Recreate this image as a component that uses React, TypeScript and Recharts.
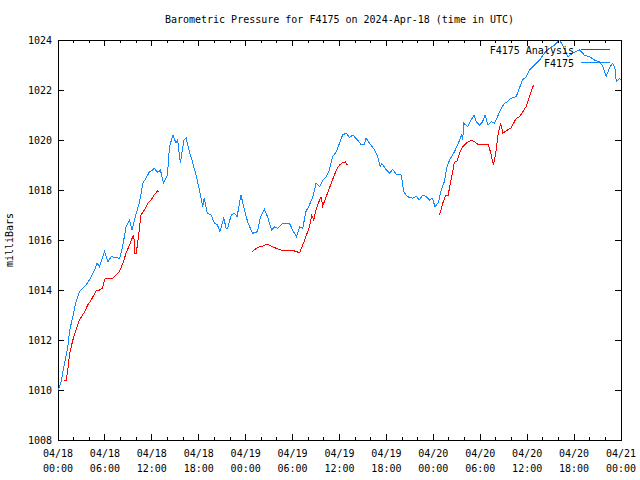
import React from "react";
import {
  LineChart,
  Line,
  XAxis,
  YAxis,
  ReferenceArea,
} from "recharts";

// hours since 04/18 00:00 UTC, observed station pressure (mb)
const obsHours = [
  0, 0.4, 0.85, 1.25, 1.5, 1.9, 2.3, 2.75, 3.6, 4.0, 4.7, 5.0, 5.3, 5.95, 6.4,
  6.8, 7.9, 8.3, 8.7, 9.15, 9.45, 9.8, 10.0, 10.4, 10.85, 11.3, 11.7, 12.1,
  12.3, 12.75, 13.1, 13.5, 14.0, 14.25, 14.7, 15.1, 15.3, 15.65, 16.1, 16.4,
  16.8, 17.25, 17.7, 18.1, 18.5, 18.7, 19.1, 19.6, 20.0, 20.4, 20.7, 21.2,
  21.5, 21.7, 22.15, 22.6, 22.9, 23.4, 23.6, 23.85, 24.3, 24.9, 25.5, 25.9,
  26.4, 26.8, 27.3, 27.7, 28.1, 28.75, 29.6, 30.0, 30.5, 30.9, 31.3, 31.7,
  32.15, 32.6, 33.0, 33.45, 33.9, 34.3, 34.7, 35.1, 35.6, 36.0, 36.4, 36.85,
  37.3, 37.7, 38.3, 38.7, 39.2, 39.4, 40.0, 40.5, 40.9, 41.2, 41.4, 42.0, 42.4,
  42.8, 43.25, 43.9, 44.2, 44.7, 45.4, 45.8, 46.2, 46.65, 47.1, 47.5, 47.9,
  48.2, 48.65, 49.0, 49.4, 49.8, 50.2, 50.7, 51.2, 51.6, 51.75, 51.9, 52.4,
  52.7, 53.2, 53.5, 53.9, 54.3, 54.6, 55.0, 55.4, 55.8, 56.2, 56.7, 57.1, 57.5,
  57.9, 58.6, 59.0, 59.4, 59.9, 60.3, 60.7, 61.15, 61.6, 62.2, 62.85, 63.5,
  64.1, 64.55, 65.2, 65.8, 66.7, 67.3, 68.0, 68.6, 69.25, 69.7, 70.1, 70.5,
  70.9, 71.2, 71.4, 71.8, 72.0,
];
const obsMb = [
  1009.97, 1010.33, 1011.1, 1011.73, 1012.4, 1012.93, 1013.53, 1013.93,
  1014.2, 1014.4, 1014.8, 1015.07, 1014.93, 1015.53, 1015.13, 1015.33,
  1015.27, 1015.8, 1016.53, 1016.8, 1016.4, 1016.8, 1017.07, 1017.47,
  1018.27, 1018.5, 1018.73, 1018.8, 1018.87, 1018.7, 1018.8, 1018.27, 1018.6,
  1019.73, 1020.2, 1019.87, 1020.0, 1019.07, 1020.0, 1020.07, 1019.53,
  1019.07, 1018.53, 1018.0, 1017.33, 1017.67, 1017.07, 1017.0, 1016.67,
  1016.6, 1016.33, 1016.87, 1016.47, 1016.47, 1017.0, 1017.07, 1016.93,
  1017.8, 1017.53, 1017.2, 1016.67, 1016.27, 1016.33, 1016.93, 1017.23,
  1016.93, 1016.4, 1016.53, 1016.47, 1016.67, 1016.67, 1016.4, 1016.13,
  1016.53, 1016.47, 1017.13, 1017.4, 1017.73, 1018.27, 1018.13, 1018.4,
  1018.53, 1018.8, 1019.33, 1019.53, 1019.87, 1020.2, 1020.27, 1020.1, 1020.2,
  1020.0, 1019.84, 1019.84, 1020.07, 1019.8, 1019.6, 1019.33, 1018.93,
  1019.07, 1018.8, 1018.67, 1018.83, 1018.64, 1018.6, 1017.93, 1017.73,
  1017.67, 1017.76, 1017.6, 1017.8, 1017.73, 1017.6, 1017.67, 1017.33, 1017.5,
  1018.0, 1018.33, 1019.0, 1019.27, 1019.53, 1019.87, 1020.2, 1020.0, 1020.67,
  1020.53, 1020.73, 1021.0, 1020.73, 1020.6, 1020.73, 1021.0, 1020.6, 1020.73,
  1020.67, 1020.93, 1021.27, 1021.47, 1021.53, 1021.67, 1021.73, 1022.07,
  1022.4, 1022.53, 1022.8, 1022.93, 1023.07, 1023.2, 1023.47, 1023.67,
  1023.8, 1024.0, 1023.8, 1023.33, 1023.47, 1023.6, 1023.4, 1023.33, 1023.2,
  1023.13, 1022.93, 1022.53, 1022.87, 1023.07, 1022.93, 1022.33, 1022.47,
  1022.4,
];

// analysis runs, null = gap between runs
const anaHours = [
  0.75, 1.05, 1.25, 1.5, 1.9, 2.3, 2.75, 3.4, 3.8, 4.25, 4.7, 4.9, 5.3, 5.7,
  5.95, 6.4, 7.0, 7.45, 7.85, 8.3, 8.7, 9.15, 9.55, 9.7, 9.8, 10.0, 10.3, 10.6,
  11.05, 11.5, 11.9, 12.3, 12.75, 12.9, 18, 24.8, 25.1, 25.55, 26.2, 26.75,
  27.25, 27.9, 28.5, 29.4, 30.25, 30.9, 31.3, 31.7, 32.15, 32.45, 32.7, 33.0,
  33.45, 33.65, 33.85, 34.3, 34.7, 35.1, 35.6, 36.0, 36.4, 36.75, 37.0, 42,
  48.8, 49.2, 49.6, 49.9, 50.3, 50.7, 51.05, 51.35, 51.75, 52.2, 52.8, 53.25,
  53.7, 54.3, 55.0, 55.3, 55.6, 55.7, 56.0, 56.3, 56.6, 56.9, 57.3, 57.95,
  58.6, 59.0, 59.45, 59.85, 60.3, 60.7, 60.9,
];
const anaMb = [
  1010.37, 1010.37, 1010.8, 1011.47, 1012.0, 1012.4, 1012.8, 1013.13, 1013.4,
  1013.6, 1013.87, 1014.0, 1014.0, 1014.07, 1014.43, 1014.47, 1014.47, 1014.6,
  1014.73, 1015.07, 1015.47, 1015.8, 1016.13, 1016.2, 1015.47, 1015.47,
  1016.13, 1017.0, 1017.2, 1017.47, 1017.6, 1017.8, 1017.97, 1017.93, null,
  1015.53, 1015.6, 1015.71, 1015.76, 1015.83, 1015.76, 1015.67, 1015.6,
  1015.57, 1015.56, 1015.49, 1015.8, 1016.13, 1016.53, 1017.0, 1016.8, 1017.2,
  1017.6, 1017.71, 1017.36, 1017.73, 1018.07, 1018.4, 1018.8, 1019.0, 1019.09,
  1019.13, 1019.0, null, 1017.0, 1017.47, 1017.8, 1017.8, 1018.47, 1019.11,
  1019.16, 1019.47, 1019.73, 1019.87, 1019.99, 1019.93, 1019.83, 1019.83,
  1019.84, 1019.53, 1019.13, 1019.0, 1019.53, 1020.27, 1020.67, 1020.27,
  1020.36, 1020.49, 1020.87, 1020.93, 1021.13, 1021.33, 1021.73, 1022.13,
  1022.2,
];

const xLabelHours = [0, 6, 12, 18, 24, 30, 36, 42, 48, 54, 60, 66, 72];
const xLabelDates = [
  "04/18", "04/18", "04/18", "04/18", "04/19", "04/19", "04/19", "04/19",
  "04/20", "04/20", "04/20", "04/20", "04/21",
];
const xLabelTimes = [
  "00:00", "06:00", "12:00", "18:00", "00:00", "06:00", "12:00", "18:00",
  "00:00", "06:00", "12:00", "18:00", "00:00",
];
const yTicks = [1008, 1010, 1012, 1014, 1016, 1018, 1020, 1022, 1024];

const obsData = obsHours.map((h, i) => ({ h, mb: obsMb[i] }));
const anaData = anaHours.map((h, i) => ({ h, mb: anaMb[i] }));
// minor ticks every 2 hours
const xTicks = Array.from({ length: 37 }, (_, i) => i * 2);

const W = 640;
const H = 480;
const TOP = 40;
const LEFT = 58;
const RIGHT = 621;
const FONT = "'DejaVu Sans Mono', monospace";
const BLUE = "#1188ff";
const RED = "#ff0000";

function XTick(props: any) {
  const { x, y, payload } = props;
  const i = xLabelHours.indexOf(payload.value);
  const len = i >= 0 ? 6 : 3;
  return (
    <g shapeRendering="crispEdges">
      <line x1={x} x2={x} y1={y} y2={y - len} stroke="#000" />
      <line x1={x} x2={x} y1={TOP} y2={TOP + len} stroke="#000" />
      {i >= 0 && (
        <text x={x} y={y + 17} textAnchor="middle" fontSize={10} fontFamily={FONT} fill="#000">
          {xLabelDates[i]}
        </text>
      )}
      {i >= 0 && (
        <text x={x} y={y + 32} textAnchor="middle" fontSize={10} fontFamily={FONT} fill="#000">
          {xLabelTimes[i]}
        </text>
      )}
    </g>
  );
}

function YTick(props: any) {
  const { x, y, payload } = props;
  return (
    <g shapeRendering="crispEdges">
      <line x1={x} x2={x + 6} y1={y} y2={y} stroke="#000" />
      <line x1={RIGHT} x2={RIGHT - 6} y1={y} y2={y} stroke="#000" />
      <text x={x - 6} y={y + 4} textAnchor="end" fontSize={10} fontFamily={FONT} fill="#000">
        {payload.value}
      </text>
    </g>
  );
}

// key box drawn inside the plot, top right
function LegendBox() {
  return (
    <svg width={150} height={28} style={{ display: "block" }}>
      <text x={104} y={11} textAnchor="end" fontSize={10} fontFamily={FONT} fill="#000">
        F4175 Analysis
      </text>
      <line x1={111} x2={140} y1={6.5} y2={6.5} stroke={RED} shapeRendering="crispEdges" />
      <text x={104} y={24} textAnchor="end" fontSize={10} fontFamily={FONT} fill="#000">
        F4175
      </text>
      <line x1={111} x2={140} y1={19.5} y2={19.5} stroke={BLUE} shapeRendering="crispEdges" />
    </svg>
  );
}

export default function App() {
  return (
    <div style={{ position: "absolute", left: 0, top: 0, width: W, height: H, background: "#fff" }}>
      <div
        style={{
          position: "absolute",
          left: LEFT,
          width: RIGHT - LEFT,
          top: 13,
          textAlign: "center",
          fontFamily: FONT,
          fontSize: 10,
          lineHeight: "14px",
        }}
      >
        Barometric Pressure for F4175 on 2024-Apr-18 (time in UTC)
      </div>
      <div
        style={{
          position: "absolute",
          left: -20,
          top: 233,
          width: 60,
          textAlign: "center",
          fontFamily: FONT,
          fontSize: 10,
          lineHeight: "14px",
          transform: "rotate(-90deg)",
        }}
      >
        milliBars
      </div>
      <LineChart
        width={W}
        height={H}
        margin={{ top: TOP, right: W - RIGHT, left: 0, bottom: 0 }}
      >
        <XAxis
          dataKey="h"
          type="number"
          domain={[0, 72]}
          ticks={xTicks}
          interval={0}
          height={40}
          tickSize={0}
          tickMargin={0}
          axisLine={false}
          tickLine={false}
          tick={<XTick />}
          allowDuplicatedCategory={false}
        />
        <YAxis
          type="number"
          domain={[1008, 1024]}
          ticks={yTicks}
          interval={0}
          width={LEFT}
          tickSize={0}
          tickMargin={0}
          axisLine={false}
          tickLine={false}
          tick={<YTick />}
        />
        <ReferenceArea
          x1={0}
          x2={72}
          y1={1008}
          y2={1024}
          fill="none"
          fillOpacity={0}
          stroke="#000"
          strokeOpacity={1}
          shapeRendering="crispEdges"
        />
        <Line
          data={anaData}
          dataKey="mb"
          type="linear"
          stroke={RED}
          strokeWidth={1}
          dot={false}
          activeDot={false}
          connectNulls={false}
          isAnimationActive={false}
          shapeRendering="crispEdges"
        />
        <Line
          data={obsData}
          dataKey="mb"
          type="linear"
          stroke={BLUE}
          strokeWidth={1}
          dot={false}
          activeDot={false}
          isAnimationActive={false}
          shapeRendering="crispEdges"
        />
      </LineChart>
      <div style={{ position: "absolute", left: 470, top: 43 }}>
        <LegendBox />
      </div>
    </div>
  );
}
